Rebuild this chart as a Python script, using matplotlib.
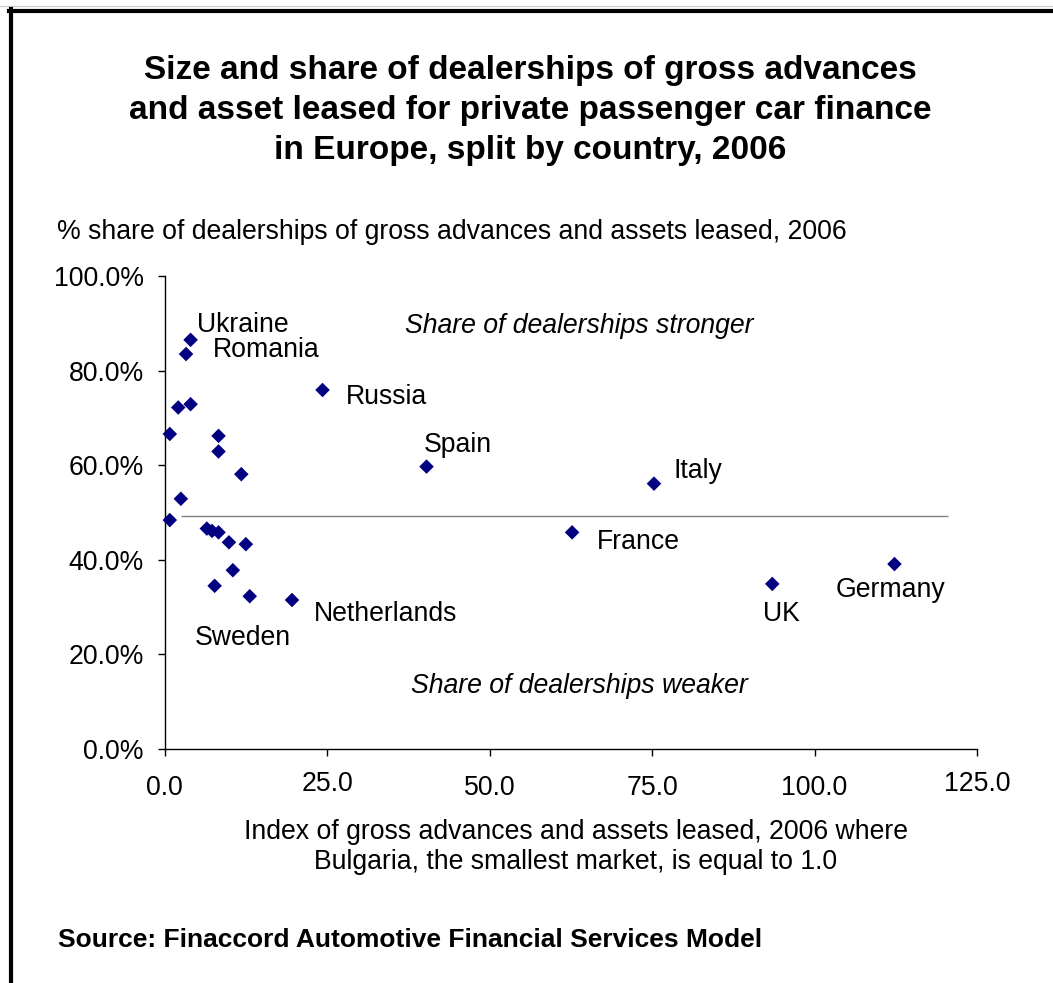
import matplotlib
matplotlib.use("Agg")
import matplotlib.pyplot as plt
from matplotlib.lines import Line2D
from matplotlib.transforms import ScaledTranslation

plt.rcParams['font.family'] = ['Liberation Sans', 'DejaVu Sans']

# ---- data ----
index_values = [4.0, 3.3, 2.1, 4.0, 0.8, 8.3, 8.3, 24.3, 40.3, 11.8, 2.5, 0.8,
                6.5, 7.3, 8.3, 9.9, 12.5, 10.5, 7.7, 13.1, 19.6,
                75.3, 62.7, 93.5, 112.3]
share_values = [86.5, 83.5, 72.2, 72.9, 66.6, 66.2, 62.9, 75.9, 59.7, 58.1, 52.9, 48.4,
                46.6, 46.1, 45.8, 43.7, 43.3, 37.8, 34.5, 32.3, 31.5,
                56.1, 45.8, 34.9, 39.1]
country_labels = ["Ukraine", "Romania", "", "", "", "", "", "Russia", "Spain", "", "", "",
                  "", "", "", "", "", "", "Sweden", "", "Netherlands",
                  "Italy", "France", "UK", "Germany"]
# label offsets in pixels (dx, dy up)
label_offsets = {"Ukraine": (6, 15), "Romania": (27, 4), "Russia": (23, -7),
                 "Spain": (-3, 22), "Italy": (20, 13), "France": (25, -10),
                 "Germany": (-59, -26), "UK": (-9, -30), "Netherlands": (22, -14),
                 "Sweden": (-20, -52)}
average_share = 49.3
x_ticks = [0, 25, 50, 75, 100, 125]
y_ticks = [0, 20, 40, 60, 80, 100]

FS = 19.2

W, H = 1053, 983
fig = plt.figure(figsize=(W / 100, H / 100), dpi=100)
fig.patch.set_facecolor('white')

def fx(px):
    return px / W

def fy(py):
    return 1 - py / H

ax = fig.add_axes([fx(164.6), fy(749), fx(977) - fx(164.6), fy(276) - fy(749)])
ax.set_xlim(0, 125)
ax.set_ylim(0, 100)
ax.patch.set_alpha(0)
for s in ['top', 'right']:
    ax.spines[s].set_visible(False)
for s in ['left', 'bottom']:
    ax.spines[s].set_linewidth(1.0)
    ax.spines[s].set_color('black')

ax.set_xticks(x_ticks)
ax.set_xticklabels([f"{v:.1f}" for v in x_ticks])
ax.set_yticks(y_ticks)
ax.set_yticklabels([f"{v:.1f}%" for v in y_ticks])
ax.tick_params(axis='both', direction='out', length=5, width=1, labelsize=FS)
ax.tick_params(axis='x', pad=14)
ax.tick_params(axis='y', pad=10)

# alternate vertical offsets like the original
for i in (1, 5):
    lbl = ax.xaxis.get_major_ticks()[i].label1
    lbl.set_transform(lbl.get_transform() + ScaledTranslation(0, 4 / 100, fig.dpi_scale_trans))

ax.hlines(average_share, 2.5, 120.6, color='#808080', lw=1.0, zorder=1)

ax.scatter(index_values, share_values, marker='D', s=55, color='#000080',
           edgecolors='none', zorder=3, clip_on=False)

for x, y, lab in zip(index_values, share_values, country_labels):
    if lab:
        dx, dy = label_offsets[lab]
        ax.annotate(lab, (x, y), xytext=(dx * 0.72, dy * 0.72), textcoords='offset points',
                    ha='left', va='center', fontsize=FS)

ax.text(63.8, 89.4, "Share of dealerships stronger", style='italic', fontsize=FS,
        ha='center', va='center')
ax.text(63.8, 13.3, "Share of dealerships weaker", style='italic', fontsize=FS,
        ha='center', va='center')

# title
title_lines = ["Size and share of dealerships of gross advances",
               "and asset leased for private passenger car finance",
               "in Europe, split by country, 2006"]
for i, t in enumerate(title_lines):
    fig.text(fx(530), fy(70 + 40 * i), t, ha='center', va='center', fontsize=24,
             fontweight='bold')

fig.text(fx(57), fy(232), "% share of dealerships of gross advances and assets leased, 2006",
         ha='left', va='center', fontsize=FS)

fig.text(fx(576), fy(832), "Index of gross advances and assets leased, 2006 where",
         ha='center', va='center', fontsize=FS)
fig.text(fx(576), fy(862), "Bulgaria, the smallest market, is equal to 1.0",
         ha='center', va='center', fontsize=FS)

fig.text(fx(58), fy(940), "Source: Finaccord Automotive Financial Services Model",
         ha='left', va='center', fontsize=19, fontweight='bold')

# frame
fig.add_artist(Line2D([fx(0), fx(W)], [fy(6), fy(6)], color='#c8c8c8', lw=0.8))
fig.add_artist(Line2D([fx(9), fx(W + 5)], [fy(11), fy(11)], color='black', lw=3.0))
fig.add_artist(Line2D([fx(11), fx(11)], [fy(9), fy(H + 5)], color='black', lw=3.0))

fig.savefig("out.png", dpi=100, facecolor='white')
